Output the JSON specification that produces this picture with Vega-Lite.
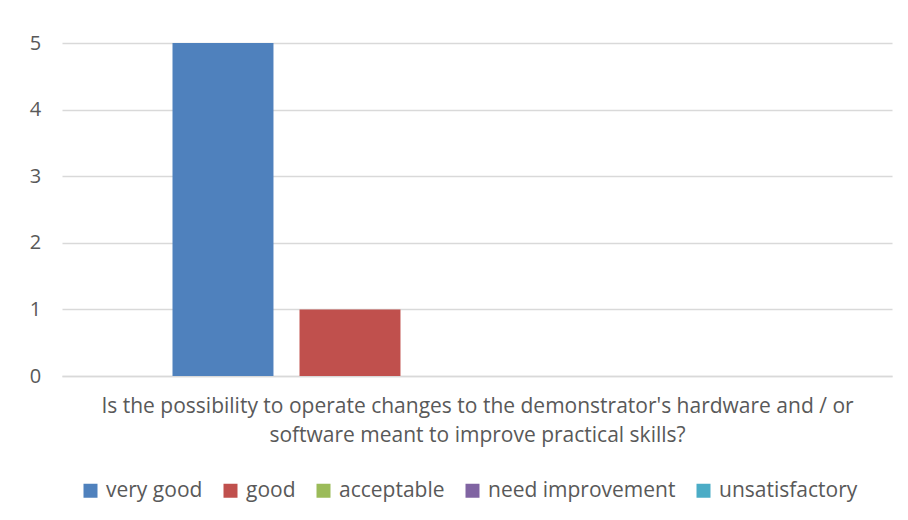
{
  "$schema": "https://vega.github.io/schema/vega-lite/v6.json",
  "width": 830,
  "height": 333,
  "autosize": {"type": "none"},
  "padding": {"left": 62, "top": 43, "right": 16, "bottom": 144},
  "background": "white",
  "config": {
    "view": {"stroke": null},
    "font": "Open Sans",
    "axis": {"labelColor": "#595959", "titleColor": "#595959"},
    "legend": {"labelColor": "#595959"}
  },
  "data": {
    "values": [
      {"rating": "very good", "count": 5},
      {"rating": "good", "count": 1},
      {"rating": "acceptable", "count": 0},
      {"rating": "need improvement", "count": 0},
      {"rating": "unsatisfactory", "count": 0}
    ]
  },
  "mark": {"type": "bar"},
  "encoding": {
    "x": {
      "field": "rating",
      "type": "nominal",
      "sort": null,
      "scale": {"paddingInner": 0.205, "paddingOuter": 0.87},
      "axis": {
        "labels": false,
        "ticks": false,
        "domain": true,
        "domainColor": "#d9d9d9",
        "domainWidth": 1.5,
        "title": ["Is the possibility to operate changes to the demonstrator's hardware and / or", "software meant to improve practical skills?"],
        "titleFontSize": 21,
        "titleFontWeight": "normal",
        "titleLineHeight": 29,
        "titlePadding": 19
      }
    },
    "y": {
      "field": "count",
      "type": "quantitative",
      "scale": {"domain": [0, 5]},
      "axis": {
        "title": null,
        "values": [0, 1, 2, 3, 4, 5],
        "format": "d",
        "domain": false,
        "ticks": false,
        "labelPadding": 27,
        "labelFontSize": 20,
        "labelAlign": "center",
        "gridColor": "#d9d9d9",
        "gridWidth": 1.5
      }
    },
    "color": {
      "field": "rating",
      "type": "nominal",
      "sort": null,
      "scale": {
        "domain": ["very good", "good", "acceptable", "need improvement", "unsatisfactory"],
        "range": ["#4F81BD", "#C0504D", "#9BBB59", "#8064A2", "#4BACC6"]
      },
      "legend": {
        "orient": "none",
        "legendX": 18,
        "legendY": 437,
        "direction": "horizontal",
        "title": null,
        "symbolType": "square",
        "symbolSize": 196,
        "symbolStrokeWidth": 0,
        "labelFontSize": 21,
        "labelLimit": 300,
        "columnPadding": 17,
        "labelOffset": 5
      }
    }
  }
}
